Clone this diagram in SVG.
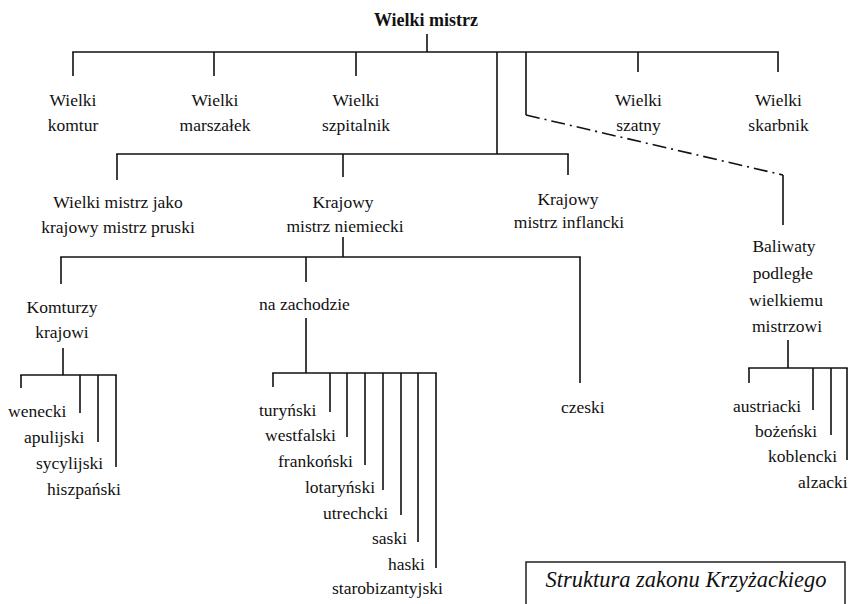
<svg xmlns="http://www.w3.org/2000/svg" width="856" height="604" viewBox="0 0 856 604" font-family="'Liberation Serif', 'Times New Roman', serif">
<style>
text{font-family:'Liberation Serif','Times New Roman',serif;font-size:17.5px;fill:#111}
.c{text-anchor:middle}
.b{font-weight:bold;font-size:18px}
.it{font-style:italic;font-size:22.5px}
.ln line,.ln path{stroke:#111;stroke-width:1.6;fill:none}
.ln .d{stroke-dasharray:14 5 2 5}
</style>
<rect width="856" height="604" fill="#fff"/>
<g class="ln" id="connectors">
<line x1="427" y1="34" x2="427" y2="52"/>
<line x1="72.2" y1="52" x2="778.8" y2="52"/>
<line x1="73" y1="52" x2="73" y2="76"/>
<line x1="214" y1="52" x2="214" y2="76"/>
<line x1="356" y1="52" x2="356" y2="76"/>
<line x1="638" y1="52" x2="638" y2="72"/>
<line x1="778" y1="52" x2="778" y2="72"/>
<line x1="497" y1="52" x2="497" y2="154"/>
<path d="M526 52V115"/>
<path class="d" d="M526 115L783 175"/>
<line x1="783" y1="175" x2="783" y2="225"/>
<line x1="116.2" y1="154" x2="568.8" y2="154"/>
<line x1="117" y1="154" x2="117" y2="180"/>
<line x1="343" y1="154" x2="343" y2="177"/>
<line x1="568" y1="154" x2="568" y2="175"/>
<line x1="343" y1="237" x2="343" y2="257"/>
<line x1="60.2" y1="257" x2="580.8" y2="257"/>
<line x1="61" y1="257" x2="61" y2="284"/>
<line x1="306" y1="257" x2="306" y2="282"/>
<line x1="580" y1="257" x2="580" y2="383"/>
<line x1="63" y1="348" x2="63" y2="375"/>
<line x1="20.2" y1="375" x2="116.8" y2="375"/>
<line x1="21" y1="375" x2="21" y2="388"/>
<line x1="80" y1="375" x2="80" y2="413"/>
<line x1="98" y1="375" x2="98" y2="442"/>
<line x1="116" y1="375" x2="116" y2="467"/>
<line x1="306" y1="318" x2="306" y2="373"/>
<line x1="272.2" y1="373" x2="436.8" y2="373"/>
<line x1="273" y1="373" x2="273" y2="387"/>
<line x1="330" y1="373" x2="330" y2="412"/>
<line x1="347" y1="373" x2="347" y2="437"/>
<line x1="365" y1="373" x2="365" y2="465"/>
<line x1="383" y1="373" x2="383" y2="490"/>
<line x1="401" y1="373" x2="401" y2="515"/>
<line x1="418" y1="373" x2="418" y2="542"/>
<line x1="436" y1="373" x2="436" y2="568"/>
<line x1="788" y1="340" x2="788" y2="368"/>
<line x1="748.2" y1="368" x2="847.8" y2="368"/>
<line x1="749" y1="368" x2="749" y2="383"/>
<line x1="813" y1="368" x2="813" y2="410"/>
<line x1="831" y1="368" x2="831" y2="435"/>
<line x1="847" y1="368" x2="847" y2="460"/>
</g>
<g id="wielki-mistrz"><text class="c b" x="426" y="26">Wielki mistrz</text></g>
<g id="komtur"><text class="c" x="73" y="106">Wielki</text><text class="c" x="73" y="131">komtur</text></g>
<g id="marszalek"><text class="c" x="215" y="106">Wielki</text><text class="c" x="215" y="131">marszałek</text></g>
<g id="szpitalnik"><text class="c" x="356" y="106">Wielki</text><text class="c" x="356" y="131">szpitalnik</text></g>
<g id="szatny"><text class="c" x="638.5" y="106">Wielki</text><text class="c" x="638.5" y="131">szatny</text></g>
<g id="skarbnik"><text class="c" x="778.5" y="106">Wielki</text><text class="c" x="778.5" y="131">skarbnik</text></g>
<g id="pruski"><text class="c" x="118" y="208">Wielki mistrz jako</text><text class="c" x="118" y="233">krajowy mistrz pruski</text></g>
<g id="niemiecki"><text class="c" x="343" y="208">Krajowy</text><text class="c" x="345" y="232">mistrz niemiecki</text></g>
<g id="inflancki"><text class="c" x="568" y="205">Krajowy</text><text class="c" x="569" y="228">mistrz inflancki</text></g>
<g id="baliwaty"><text class="c" x="784" y="252">Baliwaty</text><text class="c" x="783" y="279">podległe</text><text class="c" x="786" y="306">wielkiemu</text><text class="c" x="787" y="332">mistrzowi</text></g>
<g id="komturzy"><text class="c" x="62" y="313">Komturzy</text><text class="c" x="62" y="338">krajowi</text></g>
<g id="zachod"><text x="259" y="310">na zachodzie</text></g>
<g id="czeski"><text x="561" y="413">czeski</text></g>
<g id="komt-list">
<text x="8" y="417">wenecki</text>
<text x="24" y="443">apulijski</text>
<text x="36" y="469">sycylijski</text>
<text x="47" y="495">hiszpański</text>
</g>
<g id="zach-list">
<text x="259" y="416">turyński</text>
<text x="265" y="441">westfalski</text>
<text x="278" y="467">frankoński</text>
<text x="305" y="493">lotaryński</text>
<text x="323" y="519">utrechcki</text>
<text x="372" y="544">saski</text>
<text x="388" y="570">haski</text>
<text x="332" y="594">starobizantyjski</text>
</g>
<g id="bal-list">
<text x="733" y="412">austriacki</text>
<text x="755" y="437">bożeński</text>
<text x="768" y="462">koblencki</text>
<text x="798" y="488">alzacki</text>
</g>
<g id="caption">
<rect x="526" y="562" width="319" height="50" fill="none" stroke="#111" stroke-width="1.4"/>
<text class="c it" x="686" y="587">Struktura zakonu Krzyżackiego</text>
</g>
</svg>
